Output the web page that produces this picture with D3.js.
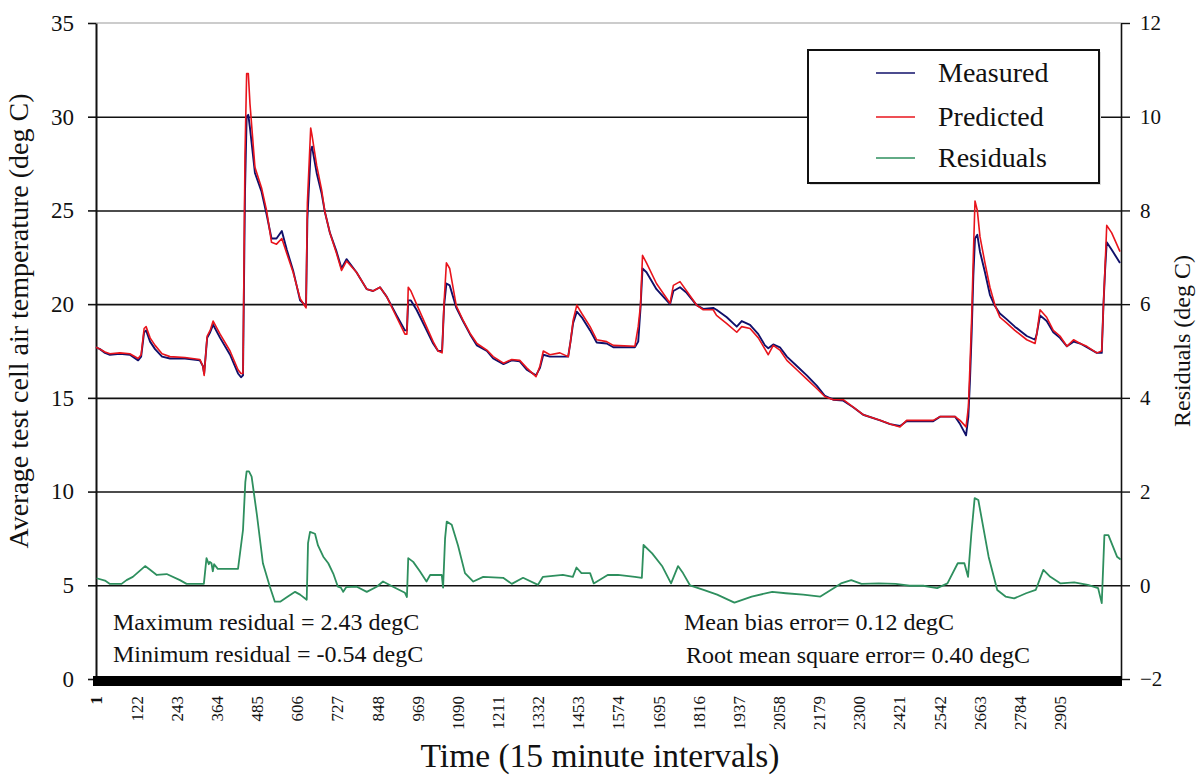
<!DOCTYPE html>
<html>
<head>
<meta charset="utf-8">
<script src="https://cdn.jsdelivr.net/npm/d3@7"></script>
<style>
  html, body { margin: 0; padding: 0; background: #fff; }
  svg { display: block; }
  text { font-family: "Liberation Serif", "Times New Roman", serif; fill: #111; }
</style>
</head>
<body>
<svg id="chart" width="1200" height="776"></svg>
<script>
// ---------- data ----------
const tempTime = [1,13,28,43,73,103,128,137,146,152,164,179,200,224,269,314,323,327,336,345,354,375,405,429,438,444,450,455,460,465,480,500,515,530,545,561,576,595,616,634,638,648,652,666,681,691,706,726,741,756,786,817,836,857,877,907,932,938,942,950,967,992,1017,1032,1044,1050,1057,1067,1087,1107,1128,1149,1179,1198,1229,1254,1278,1299,1327,1339,1349,1369,1399,1424,1431,1439,1450,1465,1490,1510,1540,1560,1625,1635,1642,1648,1660,1690,1731,1741,1761,1781,1811,1831,1861,1871,1902,1932,1947,1972,1997,2017,2027,2042,2062,2083,2113,2143,2173,2198,2223,2253,2283,2313,2364,2394,2424,2444,2524,2545,2590,2605,2623,2630,2635,2640,2645,2650,2657,2665,2680,2695,2710,2725,2745,2770,2806,2831,2836,2846,2866,2886,2906,2927,2947,2967,2987,3017,3032,3037,3042,3047,3062,3087];
const predicted = [17.7,17.6,17.45,17.35,17.4,17.35,17.1,17.3,18.7,18.8,18.2,17.8,17.35,17.2,17.15,17.05,16.7,16.2,18.3,18.6,19.1,18.4,17.5,16.5,16.3,16.3,28.0,32.3,32.3,30.7,27.3,26.2,25.0,23.3,23.2,23.5,22.7,21.7,20.3,19.8,25.4,29.4,29.0,27.4,26.1,24.9,23.8,22.7,21.8,22.3,21.7,20.8,20.7,20.9,20.4,19.3,18.4,18.4,20.9,20.7,20.0,19.0,18.0,17.5,17.4,20.1,22.2,21.9,19.9,19.15,18.45,17.9,17.55,17.2,16.85,17.05,17.0,16.6,16.13,16.7,17.5,17.3,17.4,17.2,18.0,19.15,19.95,19.5,18.8,18.1,18.0,17.8,17.75,18.8,19.95,22.6,22.2,21.1,20.05,21.0,21.2,20.7,19.95,19.7,19.7,19.4,18.96,18.5,18.8,18.7,18.2,17.6,17.3,17.8,17.55,17.0,16.5,16.0,15.5,15.06,14.9,14.9,14.5,14.1,13.8,13.6,13.45,13.8,13.8,14.0,14.0,13.8,13.45,14.5,16.8,19.3,22.6,25.5,25.0,23.6,22.2,20.9,19.96,19.3,19.0,18.6,18.1,17.9,18.4,19.7,19.3,18.6,18.3,17.75,18.1,17.9,17.75,17.4,17.5,19.9,22.0,24.2,23.8,22.8];
const measured = [17.7,17.6,17.4,17.3,17.35,17.3,17.0,17.2,18.5,18.6,18.0,17.6,17.2,17.1,17.1,17.0,16.7,16.3,18.2,18.5,18.9,18.2,17.3,16.3,16.1,16.2,26.0,30.0,30.1,29.4,27.0,26.0,24.8,23.5,23.5,23.9,22.9,21.8,20.2,19.9,24.5,28.2,28.4,27.0,25.9,24.9,23.8,22.8,21.9,22.4,21.7,20.8,20.7,20.9,20.4,19.4,18.6,18.6,20.2,20.2,19.7,18.8,17.9,17.5,17.5,19.9,21.1,21.0,19.8,19.1,18.4,17.8,17.5,17.1,16.8,17.0,16.95,16.5,16.2,16.6,17.3,17.2,17.2,17.2,18.0,19.0,19.6,19.3,18.6,17.95,17.9,17.7,17.7,18.0,19.8,21.9,21.7,20.8,20.0,20.7,20.9,20.6,19.95,19.75,19.8,19.7,19.3,18.8,19.1,18.9,18.4,17.8,17.65,17.85,17.7,17.2,16.7,16.2,15.65,15.1,14.9,14.85,14.5,14.1,13.8,13.6,13.5,13.75,13.75,14.0,14.0,13.6,13.0,14.0,16.0,18.5,21.5,23.5,23.7,22.8,21.7,20.5,19.9,19.5,19.2,18.8,18.3,18.1,18.4,19.4,19.1,18.5,18.2,17.75,18.0,17.9,17.7,17.4,17.4,19.9,21.8,23.3,22.9,22.2];

const residTime = [3,28,43,78,93,112,149,164,184,214,254,274,319,326,334,341,344,349,353,357,368,429,444,451,455,462,470,486,504,525,540,556,577,601,616,636,640,646,661,670,686,701,716,730,739,746,755,787,817,847,866,896,932,938,942,957,977,997,1008,1043,1047,1053,1058,1073,1092,1113,1138,1168,1228,1254,1288,1333,1348,1408,1438,1449,1464,1490,1501,1543,1574,1625,1646,1651,1677,1708,1734,1755,1770,1791,1832,1873,1925,1977,2039,2080,2132,2184,2225,2246,2277,2308,2360,2411,2453,2494,2536,2567,2598,2618,2629,2639,2649,2660,2691,2717,2742,2768,2804,2833,2856,2877,2908,2949,2990,3021,3032,3040,3052,3078,3089];
const residuals = [0.15,0.1,0.03,0.03,0.11,0.18,0.41,0.33,0.22,0.24,0.11,0.03,0.03,0.03,0.58,0.45,0.5,0.47,0.3,0.45,0.35,0.35,1.18,2.2,2.43,2.43,2.32,1.5,0.47,-0.03,-0.35,-0.35,-0.25,-0.14,-0.2,-0.31,0.9,1.14,1.1,0.85,0.61,0.47,0.25,-0.03,-0.05,-0.14,-0.04,-0.03,-0.14,-0.03,0.08,-0.03,-0.16,-0.25,0.58,0.5,0.3,0.08,0.22,0.22,-0.05,1.0,1.36,1.29,0.85,0.26,0.08,0.18,0.16,0.03,0.16,0.01,0.18,0.22,0.18,0.38,0.26,0.26,0.04,0.22,0.22,0.18,0.16,0.86,0.68,0.4,0.04,0.41,0.26,0.0,-0.1,-0.2,-0.37,-0.24,-0.14,-0.17,-0.2,-0.24,-0.06,0.04,0.11,0.03,0.04,0.03,-0.01,-0.01,-0.06,0.04,0.47,0.47,0.18,1.1,1.86,1.82,0.61,-0.1,-0.24,-0.28,-0.17,-0.1,0.33,0.18,0.04,0.06,0.01,-0.06,-0.38,1.07,1.07,0.61,0.55];

const xTickLabels = ["1","122","243","364","485","606","727","848","969","1090","1211","1332","1453","1574","1695","1816","1937","2058","2179","2300","2421","2542","2663","2784","2905"];
const leftTicks = [0,5,10,15,20,25,30,35];
const rightTicks = [-2,0,2,4,6,8,10,12];
const seriesNames = ["Measured","Predicted","Residuals"];
const statsLeft = ["Maximum residual = 2.43 degC","Minimum residual = -0.54 degC"];
const statsRight = ["Mean bias error= 0.12 degC","Root mean square error= 0.40 degC"];

// ---------- layout ----------
const L = 96, R = 1121, T = 23, B = 679;
const colors = { Measured: "#10106a", Predicted: "#e8141c", Residuals: "#2e8f5e" };

const svg = d3.select("#chart");
const x = d3.scaleLinear().domain([1, 3090]).range([L, R]);
const yL = d3.scaleLinear().domain([0, 35]).range([B, T]);
const yR = d3.scaleLinear().domain([-2, 12]).range([B, T]);

// top border (light)
svg.append("line").attr("x1", L).attr("x2", R).attr("y1", yL(35)).attr("y2", yL(35))
  .attr("stroke", "#999").attr("stroke-width", 1);

// gridlines
const grid = svg.append("g").attr("transform", `translate(${L},0)`)
  .call(d3.axisLeft(yL).tickValues(leftTicks.filter(v => v > 0 && v < 35)).tickSize(-(R - L)).tickFormat(""));
grid.select(".domain").remove();
grid.selectAll("line").attr("stroke", "#111").attr("stroke-width", 1.6);

// left axis
const gL = svg.append("g").attr("transform", `translate(${L},0)`)
  .call(d3.axisLeft(yL).tickValues(leftTicks).tickSize(8).tickPadding(14).tickSizeOuter(0));
gL.select(".domain").attr("stroke", "#111").attr("stroke-width", 2);
gL.selectAll(".tick line").attr("stroke", "#111").attr("stroke-width", 1.6);
gL.selectAll(".tick text").style("font-family", '"Liberation Serif", serif').style("font-size", "23px").attr("fill", "#111");

// right axis
const gR = svg.append("g").attr("transform", `translate(${R},0)`)
  .call(d3.axisRight(yR).tickValues(rightTicks).tickSize(9).tickPadding(10).tickSizeOuter(0));
gR.select(".domain").attr("stroke", "#111").attr("stroke-width", 1.6);
gR.selectAll(".tick line").attr("stroke", "#111").attr("stroke-width", 1.4);
gR.selectAll(".tick text").style("font-family", '"Liberation Serif", serif').style("font-size", "21px").attr("fill", "#111");

// bottom axis with heavy bar
const gB = svg.append("g").attr("transform", `translate(0,${B})`)
  .call(d3.axisBottom(x).tickValues(xTickLabels.map(Number)).tickSize(0).tickFormat((d, i) => xTickLabels[i]));
gB.select(".domain").remove();
svg.append("rect").attr("x", L - 3).attr("y", B - 3).attr("width", R - L + 4).attr("height", 10).attr("fill", "#000");
gB.selectAll(".tick text")
  .attr("transform", "rotate(-90)")
  .attr("text-anchor", "end")
  .attr("x", -17).attr("y", 0).attr("dy", "0.35em")
  .style("font-family", '"Liberation Serif", serif').style("font-size", "17px")
  .style("font-weight", (d, i) => (i === 0 ? "bold" : "normal"))
  .attr("fill", "#111");

// lines
const lineT = (vals) => d3.line().x((d, i) => x(tempTime[i])).y(d => yL(d))(vals);
const lineR = d3.line().x((d, i) => x(residTime[i])).y(d => yR(d));

svg.append("path").attr("d", lineR(residuals)).attr("fill", "none")
  .attr("stroke", colors.Residuals).attr("stroke-width", 1.8).attr("stroke-linejoin", "round");
svg.append("path").attr("d", lineT(measured)).attr("fill", "none")
  .attr("stroke", colors.Measured).attr("stroke-width", 1.9).attr("stroke-linejoin", "round");
svg.append("path").attr("d", lineT(predicted)).attr("fill", "none")
  .attr("stroke", colors.Predicted).attr("stroke-width", 1.6).attr("stroke-linejoin", "round");

// stats text
statsLeft.forEach((s, i) => {
  svg.append("text").attr("x", 113).attr("y", 630 + i * 32).style("font-size", "24px").text(s);
});
statsRight.forEach((s, i) => {
  svg.append("text").attr("x", 684 + i * 2).attr("y", 630 + i * 33).style("font-size", "24px").text(s);
});

// legend
const lg = svg.append("g");
lg.append("rect").attr("x", 810).attr("y", 52).attr("width", 291).attr("height", 133)
  .attr("fill", "#ddd").attr("stroke", "none");
lg.append("rect").attr("x", 808).attr("y", 50).attr("width", 291).attr("height", 133)
  .attr("fill", "#fff").attr("stroke", "#111").attr("stroke-width", 2);
seriesNames.forEach((n, i) => {
  const yy = [73, 117, 158][i];
  lg.append("line").attr("x1", 876).attr("x2", 915).attr("y1", yy).attr("y2", yy)
    .attr("stroke", colors[n]).attr("stroke-width", 1.6);
  lg.append("text").attr("x", 938).attr("y", yy + 9).style("font-size", "28px").text(n);
});

// axis titles
svg.append("text").attr("transform", `translate(28,321) rotate(-90)`).attr("text-anchor", "middle")
  .style("font-size", "28px").text("Average test cell air temperature (deg C)");
svg.append("text").attr("transform", `translate(1190,341) rotate(-90)`).attr("text-anchor", "middle")
  .style("font-size", "24px").text("Residuals (deg C)");
svg.append("text").attr("x", 600).attr("y", 767).attr("text-anchor", "middle")
  .style("font-size", "33.5px").text("Time (15 minute intervals)");
</script>
</body>
</html>
